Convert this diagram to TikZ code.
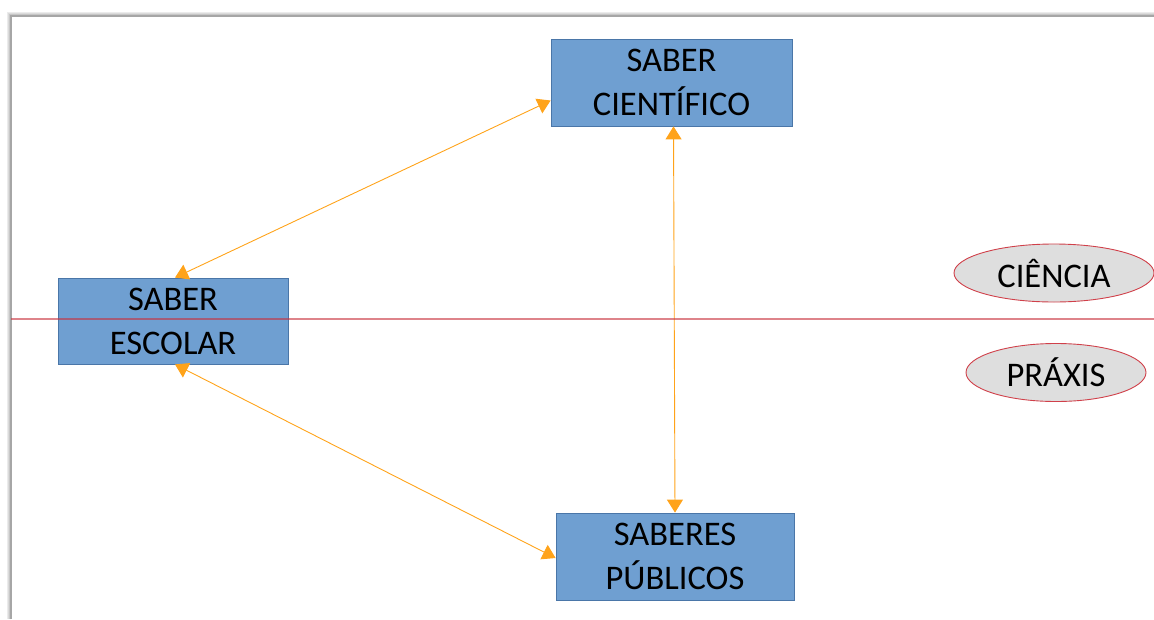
\documentclass[tikz,border=0pt]{standalone}
\usepackage{fontspec}
\setmainfont{Carlito}
\usetikzlibrary{arrows.meta,shapes.geometric,calc}
\definecolor{boxfill}{HTML}{6F9FD1}
\definecolor{boxdraw}{HTML}{4A76A8}
\definecolor{ellfill}{HTML}{DEDEDE}
\definecolor{elldraw}{HTML}{D0404A}
\definecolor{arrowc}{HTML}{FFA31A}
\definecolor{linec}{HTML}{C8303C}
\tikzset{
  saber/.style={draw=boxdraw, line width=0.8pt, fill=boxfill, rectangle, align=center,
    font=\fontsize{34.5}{44}\selectfont, inner sep=0pt},
  campo/.style={draw=elldraw, line width=0.9pt, fill=ellfill, ellipse, inner sep=0pt,
    font=\fontsize{34.5}{40}\selectfont},
  link/.style={draw=arrowc, line width=0.9pt,
    {Triangle[width=16pt,length=13pt]}-{Triangle[width=16pt,length=13pt]}},
  divide/.style={draw=linec, line width=1.6pt, opacity=0.6},
  frame/.style={draw=gray!70, line width=1.2pt}
}
\begin{document}
\begin{tikzpicture}[x=1pt,y=-1pt]
\useasboundingbox (0,0) rectangle (1154,619);
% frame with soft shadow
\foreach \i/\c in {4/8,3/14,2/22,1/35}{
  \draw[draw=black!\c, line width=1pt] (11-\i,619) -- (11-\i,16-\i) -- (1154,16-\i);
}
\coordinate (fl) at (11,619);
\coordinate (ft) at (11,16);
\coordinate (fr) at (1154,16);
\draw[frame] (fl) -- (ft) -- (fr);
% nodes
\node[saber, minimum width=241pt, minimum height=87pt] (sc) at (671.5,82.5) {SABER\\CIENTÍFICO};
\node[saber, minimum width=230pt, minimum height=86pt] (se) at (173,321) {SABER\\ESCOLAR};
\node[saber, minimum width=238pt, minimum height=87pt] (sp) at (675,556.5) {SABERES\\PÚBLICOS};
\node[campo, minimum width=200pt, minimum height=58pt] (ci) at (1054,273) {CIÊNCIA};
\node[campo, minimum width=180pt, minimum height=58pt] (pr) at (1056,372.5) {PRÁXIS};
% connectors
\draw[link] ([yshift=-18pt]sc.west) -- ([xshift=2pt]se.north);
\draw[link] ([xshift=2pt]sc.south) -- ([xshift=0pt]sp.north);
\draw[link] ([xshift=2pt]se.south) -- ([yshift=-1.5pt]sp.west);
% dividing line
\coordinate (dl) at (11,319);
\coordinate (dr) at (1154,319);
\draw[divide] (dl) -- (dr);
\end{tikzpicture}
\end{document}
